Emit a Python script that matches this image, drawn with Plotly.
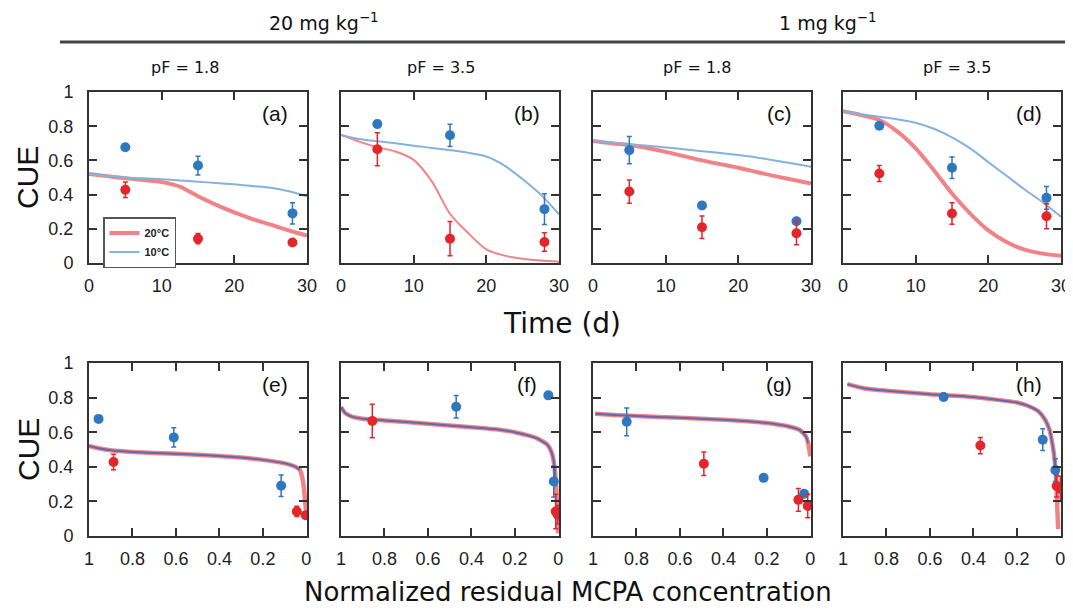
from plotly import graph_objects as go
from plotly.subplots import make_subplots

# sampling days of the measured CUE points
sample_days = [5, 15, 28]

# measured CUE (blue = 10°C, red = 20°C) for a/e, b/f, c/g, d/h
a_blue = [0.677, 0.57, 0.29]
a_blue_err = [0.012, 0.055, 0.062]
a_red = [0.428, 0.142, 0.12]
a_red_err = [0.045, 0.03, 0.01]

b_blue = [0.813, 0.747, 0.315]
b_blue_err = [0.02, 0.065, 0.09]
b_red = [0.665, 0.142, 0.123]
b_red_err = [0.097, 0.10, 0.054]

c_blue = [0.66, 0.336, 0.244]
c_blue_err = [0.08, 0.01, 0.01]
c_red = [0.418, 0.209, 0.174]
c_red_err = [0.068, 0.066, 0.068]

d_blue = [0.803, 0.557, 0.381]
d_blue_err = [0.02, 0.063, 0.066]
d_red = [0.523, 0.289, 0.273]
d_red_err = [0.047, 0.063, 0.073]

# normalized residual MCPA at the sampling days (bottom row x)
e_blue_res = [0.956, 0.61, 0.116]
e_red_res = [0.887, 0.044, 0.003]
f_blue_res = [0.046, 0.47, 0.021]
f_red_res = [0.856, 0.012, 0.003]
g_blue_res = [0.845, 0.215, 0.029]
g_red_res = [0.49, 0.055, 0.012]
h_blue_res = [0.537, 0.081, 0.023]
h_red_res = [0.368, 0.017, 0.0]

# model curves vs time
curve_days = [0, 2.5, 5, 7.5, 10, 12.5, 15, 17.5, 20, 22.5, 25, 27.5, 30]
a_red_fit = [0.52, 0.508, 0.496, 0.485, 0.473, 0.447, 0.39, 0.34, 0.296, 0.257, 0.224, 0.19, 0.16]
a_blue_fit = [0.52, 0.51, 0.50, 0.495, 0.49, 0.483, 0.475, 0.468, 0.46, 0.45, 0.44, 0.42, 0.39]
b_red_fit = [0.749, 0.71, 0.677, 0.652, 0.603, 0.477, 0.288, 0.175, 0.08, 0.043, 0.025, 0.014, 0.008]
b_blue_fit = [0.749, 0.725, 0.712, 0.70, 0.685, 0.673, 0.66, 0.645, 0.623, 0.57, 0.49, 0.40, 0.285]
c_red_fit = [0.713, 0.70, 0.69, 0.672, 0.65, 0.625, 0.60, 0.578, 0.557, 0.532, 0.508, 0.487, 0.465]
c_blue_fit = [0.713, 0.704, 0.695, 0.686, 0.676, 0.665, 0.654, 0.643, 0.631, 0.617, 0.60, 0.582, 0.5625]
d_red_fit = [0.887, 0.865, 0.836, 0.768, 0.67, 0.543, 0.406, 0.289, 0.191, 0.123, 0.078, 0.055, 0.043]
d_blue_fit = [0.887, 0.87, 0.855, 0.84, 0.82, 0.785, 0.735, 0.67, 0.59, 0.51, 0.43, 0.355, 0.27]

# model curves vs normalized residual (blue curve stops earlier)
e_fit_x = [1, 0.95, 0.9, 0.8, 0.6, 0.4, 0.3, 0.2, 0.1, 0.05, 0.03, 0.02, 0.01, 0.005, 0]
e_fit_y = [0.521, 0.506, 0.496, 0.486, 0.475, 0.463, 0.454, 0.44, 0.42, 0.40, 0.382, 0.344, 0.266, 0.19, 0.135]
e_blue_n = 11
f_fit_x = [1, 0.98, 0.95, 0.9, 0.8, 0.6, 0.4, 0.3, 0.2, 0.1, 0.05, 0.03, 0.02, 0.01, 0.005, 0]
f_fit_y = [0.745, 0.71, 0.69, 0.678, 0.668, 0.649, 0.629, 0.618, 0.60, 0.566, 0.527, 0.479, 0.42, 0.286, 0.15, 0.015]
f_blue_n = 14
g_fit_x = [0.99, 0.9, 0.8, 0.6, 0.4, 0.2, 0.1, 0.05, 0.03, 0.02, 0.01, 0.005, 0]
g_fit_y = [0.707, 0.699, 0.693, 0.683, 0.672, 0.653, 0.633, 0.614, 0.59, 0.575, 0.537, 0.498, 0.46]
g_blue_n = 11
h_fit_x = [0.98, 0.9, 0.8, 0.6, 0.4, 0.2, 0.15, 0.1, 0.07, 0.05, 0.04, 0.03, 0.02, 0.015, 0.01]
h_fit_y = [0.878, 0.853, 0.84, 0.82, 0.803, 0.772, 0.753, 0.72, 0.672, 0.614, 0.556, 0.479, 0.344, 0.19, 0.04]
h_blue_n = 13

panel_labels = ['(a)', '(b)', '(c)', '(d)', '(e)', '(f)', '(g)', '(h)']
pf_labels = ['pF = 1.8', 'pF = 3.5', 'pF = 1.8', 'pF = 3.5']
dose_labels = ['20 mg kg<sup>−1</sup>', '1 mg kg<sup>−1</sup>']

# page body has an 8px margin, so the figure is a bit smaller than the window
OFF = 8
W, H = 1073 - OFF, 610 - OFF


def px(x):
    return (x - OFF) / W


def py(y):
    return 1 - (y - OFF) / H


BLUE = '#2f78bf'
RED = '#e3262b'
RED_LINE = 'rgba(238,100,105,0.8)'
BLUE_LINE = '#84b2de'
BLUE_LINE2 = 'rgba(75,100,175,0.85)'
AXC = '#333333'

col_px = [(89, 307), (341, 559), (593, 811), (843, 1061)]
row_px = [(92, 263), (363, 536)]

fig = make_subplots(rows=2, cols=4)

top = [
    (a_blue, a_blue_err, a_red, a_red_err, a_blue_fit, a_red_fit, 4),
    (b_blue, b_blue_err, b_red, b_red_err, b_blue_fit, b_red_fit, 2),
    (c_blue, c_blue_err, c_red, c_red_err, c_blue_fit, c_red_fit, 4),
    (d_blue, d_blue_err, d_red, d_red_err, d_blue_fit, d_red_fit, 4),
]
bottom = [
    (e_blue_res, e_red_res, e_fit_x, e_fit_y, e_blue_n),
    (f_blue_res, f_red_res, f_fit_x, f_fit_y, f_blue_n),
    (g_blue_res, g_red_res, g_fit_x, g_fit_y, g_blue_n),
    (h_blue_res, h_red_res, h_fit_x, h_fit_y, h_blue_n),
]


def points(fig, x, y, err, color, row, col):
    fig.add_trace(go.Scatter(x=x, y=y, mode='markers', showlegend=False,
                             marker=dict(color=color, size=10),
                             error_y=dict(type='data', array=err, color=color, thickness=1.5, width=2.5)),
                  row=row, col=col)


for i, (by, be, ry, re, bfit, rfit, rw) in enumerate(top):
    col = i + 1
    fig.add_trace(go.Scatter(x=curve_days, y=rfit, mode='lines', name='<b>20°C</b>', showlegend=(i == 0),
                             line=dict(color=RED_LINE, width=rw, shape='spline', smoothing=0.8)),
                  row=1, col=col)
    fig.add_trace(go.Scatter(x=curve_days, y=bfit, mode='lines', name='<b>10°C</b>', showlegend=(i == 0),
                             line=dict(color=BLUE_LINE, width=2, shape='spline', smoothing=0.8)),
                  row=1, col=col)
    points(fig, sample_days, by, be, BLUE, 1, col)
    points(fig, sample_days, ry, re, RED, 1, col)

for i, (bres, rres, fx, fy, nb) in enumerate(bottom):
    col = i + 1
    by, be, ry, re = top[i][0], top[i][1], top[i][2], top[i][3]
    fig.add_trace(go.Scatter(x=fx, y=fy, mode='lines', showlegend=False,
                             line=dict(color=RED_LINE, width=4.5, shape='spline', smoothing=0.5)),
                  row=2, col=col)
    fig.add_trace(go.Scatter(x=fx[:nb], y=fy[:nb], mode='lines', showlegend=False,
                             line=dict(color=BLUE_LINE2, width=2, shape='spline', smoothing=0.5)),
                  row=2, col=col)
    points(fig, bres, by, be, BLUE, 2, col)
    points(fig, rres, ry, re, RED, 2, col)

tickfont = dict(family='Liberation Sans, Arial', size=18, color='#222')
for r in range(2):
    y0, y1 = row_px[r]
    for c in range(4):
        x0, x1 = col_px[c]
        fig.update_xaxes(domain=[px(x0), px(x1)], row=r + 1, col=c + 1)
        fig.update_yaxes(domain=[py(y1), py(y0)], row=r + 1, col=c + 1)
        if r == 0:
            fig.update_xaxes(range=[0, 30], tickvals=[0, 10, 20, 30], row=1, col=c + 1)
        else:
            fig.update_xaxes(range=[1, -0.003], tickvals=[1, 0.8, 0.6, 0.4, 0.2, 0],
                             ticktext=['1', '0.8', '0.6', '0.4', '0.2', '0'], row=2, col=c + 1)
        fig.update_yaxes(range=[0, 1], tickvals=[0, 0.2, 0.4, 0.6, 0.8, 1],
                         ticktext=['0', '0.2', '0.4', '0.6', '0.8', '1'],
                         showticklabels=(c == 0), row=r + 1, col=c + 1)

fig.update_xaxes(showgrid=False, zeroline=False, showline=True, linewidth=2, linecolor=AXC,
                 mirror='ticks', ticks='inside', ticklen=8, tickwidth=1.5, tickcolor=AXC,
                 tickfont=tickfont, ticklabelstandoff=5, automargin=False)
fig.update_yaxes(showgrid=False, zeroline=False, showline=True, linewidth=2, linecolor=AXC,
                 mirror='ticks', ticks='inside', ticklen=8, tickwidth=1.5, tickcolor=AXC,
                 tickfont=tickfont, ticklabelstandoff=10, automargin=False)

ann = []
for k, lab in enumerate(panel_labels):
    ax = '' if k == 0 else str(k + 1)
    ann.append(dict(text=lab, xref='x' + ax + ' domain', yref='y' + ax + ' domain', x=0.855, y=0.875,
                    xanchor='center', yanchor='middle', showarrow=False,
                    font=dict(family='Liberation Sans, Arial', size=21, color='#111')))


def label(text, x, y, size, family='DejaVu Sans', angle=0):
    return dict(text=text, xref='paper', yref='paper', x=px(x), y=py(y), textangle=angle,
                xanchor='center', yanchor='middle', showarrow=False,
                font=dict(family=family, size=size, color='#111'))


pf_x = [185, 441, 697, 957]
for k, lab in enumerate(pf_labels):
    ann.append(label(lab, pf_x[k], 68, 16))

dose_x = [324, 827]
for k, lab in enumerate(dose_labels):
    ann.append(label(lab, dose_x[k], 22, 19))

ann.append(label('CUE', 28, 178, 30, 'Liberation Sans, Arial', -90))
ann.append(label('CUE', 28, 450, 30, 'Liberation Sans, Arial', -90))
ann.append(label('Time (d)', 562, 323, 28))
ann.append(label('Normalized residual MCPA concentration', 568, 592, 26))

fig.update_layout(
    width=W, height=H,
    margin=dict(l=0, r=0, t=0, b=0, autoexpand=False),
    plot_bgcolor='white', paper_bgcolor='white',
    annotations=ann,
    shapes=[dict(type='line', xref='paper', yref='paper', x0=px(60), x1=1, y0=py(42), y1=py(42),
                 line=dict(color='#444', width=3))],
    legend=dict(x=px(103), y=py(217), xanchor='left', yanchor='top',
                bordercolor='#555', borderwidth=1.5, bgcolor='white',
                font=dict(family='Liberation Sans, Arial', size=11, color='#222'),
                itemwidth=30, tracegroupgap=0),
)

fig.write_html("out.html")
